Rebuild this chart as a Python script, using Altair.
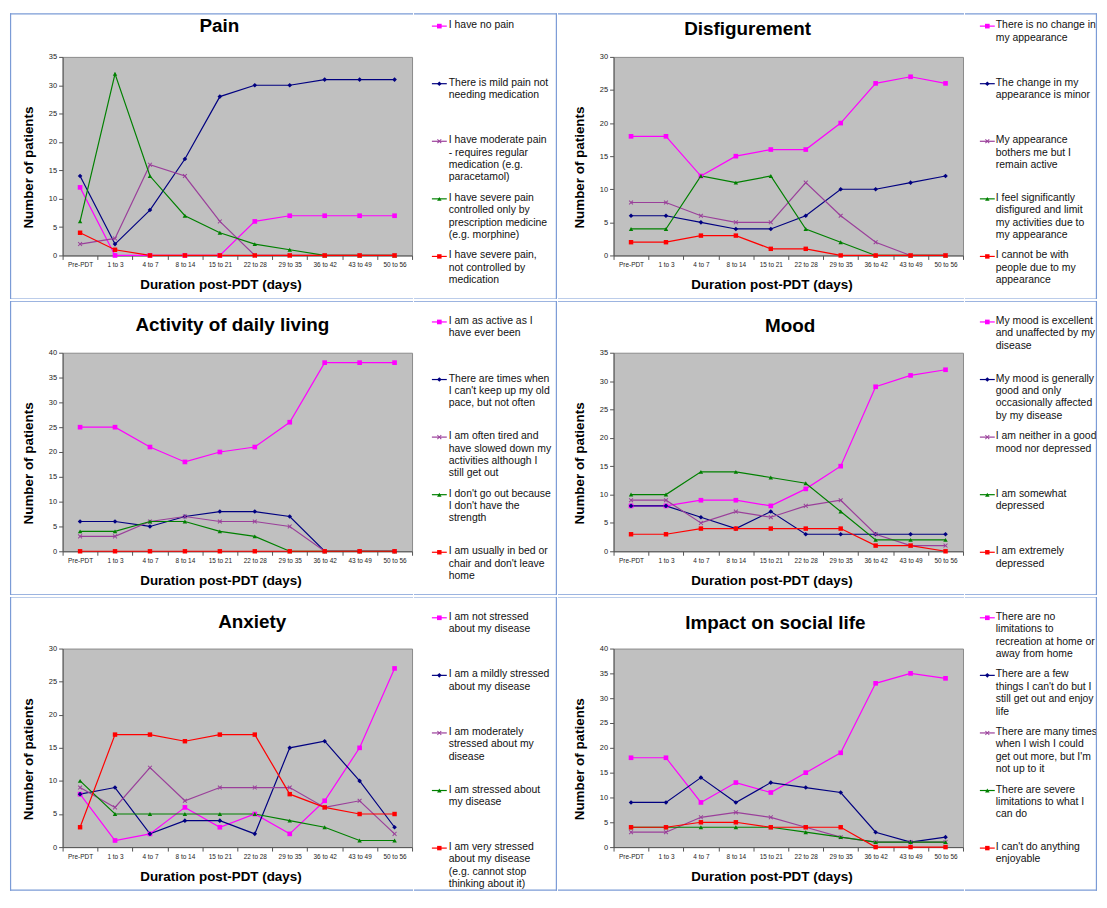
import altair as alt
import pandas as pd

FONT = "Liberation Sans"

categories = ["Pre-PDT", "1 to 3", "4 to 7", "8 to 14", "15 to 21", "22 to 28",
              "29 to 35", "36 to 42", "43 to 49", "50 to 56"]

series_keys = ["s1", "s2", "s3", "s4", "s5"]
series_colors = ["#ff00ff", "#000080", "#9a3f9a", "#008000", "#ff0000"]
X_SHAPE = "M-1,-0.7L-0.7,-1L0,-0.3L0.7,-1L1,-0.7L0.3,0L1,0.7L0.7,1L0,0.3L-0.7,1L-1,0.7L-0.3,0Z"
series_shapes = ["square", "diamond", X_SHAPE, "triangle-up", "square"]
series_sizes = [22, 20, 22, 18, 22]

# ---- Pain
pain_title = "Pain"
pain_ymax = 35
pain_labels = ["I have no pain",
               "There is mild pain not\nneeding medication",
               "I have moderate pain\n- requires regular\nmedication (e.g.\nparacetamol)",
               "I have severe pain\ncontrolled only by\nprescription medicine\n(e.g. morphine)",
               "I have severe pain,\nnot controlled by\nmedication"]
pain_values = [[12, 0, 0, 0, 0, 6, 7, 7, 7, 7],
               [14, 2, 8, 17, 28, 30, 30, 31, 31, 31],
               [2, 3, 16, 14, 6, 0, 0, 0, 0, 0],
               [6, 32, 14, 7, 4, 2, 1, 0, 0, 0],
               [4, 1, 0, 0, 0, 0, 0, 0, 0, 0]]

# ---- Disfigurement
disf_title = "Disfigurement"
disf_ymax = 30
disf_labels = ["There is no change in\nmy appearance",
               "The change in my\nappearance is minor",
               "My appearance\nbothers me but I\nremain active",
               "I feel significantly\ndisfigured and limit\nmy activities due to\nmy appearance",
               "I cannot be with\npeople due to my\nappearance"]
disf_values = [[18, 18, 12, 15, 16, 16, 20, 26, 27, 26],
               [6, 6, 5, 4, 4, 6, 10, 10, 11, 12],
               [8, 8, 6, 5, 5, 11, 6, 2, 0, 0],
               [4, 4, 12, 11, 12, 4, 2, 0, 0, 0],
               [2, 2, 3, 3, 1, 1, 0, 0, 0, 0]]

# ---- Activity of daily living
act_title = "Activity of daily living"
act_ymax = 40
act_labels = ["I am as active as I\nhave ever been",
              "There are times when\nI can't keep up my old\npace, but not often",
              "I am often tired and\nhave slowed down my\nactivities although I\nstill get out",
              "I don't go out because\nI don't have the\nstrength",
              "I am usually in bed or\nchair and don't leave\nhome"]
act_values = [[25, 25, 21, 18, 20, 21, 26, 38, 38, 38],
              [6, 6, 5, 7, 8, 8, 7, 0, 0, 0],
              [3, 3, 6, 7, 6, 6, 5, 0, 0, 0],
              [4, 4, 6, 6, 4, 3, 0, 0, 0, 0],
              [0, 0, 0, 0, 0, 0, 0, 0, 0, 0]]

# ---- Mood
mood_title = "Mood"
mood_ymax = 35
mood_labels = ["My mood is excellent\nand unaffected by my\ndisease",
               "My mood is generally\ngood and only\noccasionally affected\nby my disease",
               "I am neither in a good\nmood nor depressed",
               "I am somewhat\ndepressed",
               "I am extremely\ndepressed"]
mood_values = [[8, 8, 9, 9, 8, 11, 15, 29, 31, 32],
               [8, 8, 6, 4, 7, 3, 3, 3, 3, 3],
               [9, 9, 5, 7, 6, 8, 9, 3, 1, 1],
               [10, 10, 14, 14, 13, 12, 7, 2, 2, 2],
               [3, 3, 4, 4, 4, 4, 4, 1, 1, 0]]

# ---- Anxiety
anx_title = "Anxiety"
anx_ymax = 30
anx_labels = ["I am not stressed\nabout my disease",
              "I am a mildly stressed\nabout my disease",
              "I am moderately\nstressed about my\ndisease",
              "I am stressed about\nmy disease",
              "I am very stressed\nabout my disease\n(e.g. cannot stop\nthinking about it)"]
anx_values = [[8, 1, 2, 6, 3, 5, 2, 7, 15, 27],
              [8, 9, 2, 4, 4, 2, 15, 16, 10, 3],
              [9, 6, 12, 7, 9, 9, 9, 6, 7, 2],
              [10, 5, 5, 5, 5, 5, 4, 3, 1, 1],
              [3, 17, 17, 16, 17, 17, 8, 6, 5, 5]]

# ---- Impact on social life
soc_title = "Impact on social life"
soc_ymax = 40
soc_labels = ["There are no\nlimitations to\nrecreation at home or\naway from home",
              "There are a few\nthings I can't do but I\nstill get out and enjoy\nlife",
              "There are many times\nwhen I wish I could\nget out more, but I'm\nnot up to it",
              "There are severe\nlimitations to what I\ncan do",
              "I can't do anything\nenjoyable"]
soc_values = [[18, 18, 9, 13, 11, 15, 19, 33, 35, 34],
              [9, 9, 14, 9, 13, 12, 11, 3, 1, 2],
              [3, 3, 6, 7, 6, 4, 2, 1, 1, 1],
              [4, 4, 4, 4, 4, 3, 2, 1, 1, 1],
              [4, 4, 5, 5, 4, 4, 4, 0, 0, 0]]

# ---- layout (pixels)
PW = 352                 # plot width
PH = 200                 # plot height
B = 44                   # plot bottom -> cell bottom
COL = [dict(G=53, L=144, sx1=18, sx2=33, tx=35),   # left column
       dict(G=56, L=133, sx1=15, sx2=30, tx=31)]   # right column
ROW_T = [44, 52, 52]     # cell top -> plot top, per row
BORDER = "#7b9bd6"
BW = 1.2

color_scale = alt.Scale(domain=series_keys, range=series_colors)
shape_scale = alt.Scale(domain=series_keys, range=series_shapes)
size_scale = alt.Scale(domain=series_keys, range=series_sizes)
one = pd.DataFrame({"k": [0]})


def bar(x1, x2, y1, y2):
    # border strip drawn as a filled rectangle (exact bounds, no stroke)
    return alt.Chart(one).mark_rect(color=BORDER, strokeWidth=0).encode(
        x=alt.value(x1), x2=alt.value(x2), y=alt.value(y1), y2=alt.value(y2))


def panel(title, title_dx, title_dy, ymax, labels, values, r, c):
    G, L = COL[c]["G"], COL[c]["L"]
    T = ROW_T[r]
    top_w = BW if r == 0 else BW / 2
    bot_w = BW if r == 2 else BW / 2
    rows = []
    for si, vals in enumerate(values):
        for ci, (cat, v) in enumerate(zip(categories, vals)):
            rows.append({"cat": cat, "ci": ci, "s": series_keys[si], "v": v})
    df = pd.DataFrame(rows)

    x = alt.X("cat:N", sort=categories,
              scale=alt.Scale(type="band", paddingInner=0, paddingOuter=0),
              axis=alt.Axis(title="Duration post-PDT (days)", labelAngle=0, tickBand="extent",
                            labelFontSize=6.5, labelColor="#222", labelPadding=2,
                            tickSize=4, tickColor="#555", domainColor="#555",
                            titleFontSize=13.5, titleFontWeight="bold", titleColor="#000",
                            titlePadding=10, titleX=PW / 2 - 17))
    y = alt.Y("v:Q", scale=alt.Scale(domain=[0, ymax], nice=False, zero=True),
              axis=alt.Axis(title="Number of patients", values=list(range(0, ymax + 1, 5)),
                            grid=False, labelFontSize=7.5, labelColor="#222", labelPadding=2,
                            tickSize=4, tickColor="#555", domainColor="#555",
                            titleFontSize=13.5, titleFontWeight="bold", titleColor="#000",
                            titlePadding=13, titleY=PH / 2 + 11))
    color = alt.Color("s:N", scale=color_scale, legend=None)
    base = alt.Chart(df).encode(x=x, y=y, color=color)
    lines = base.mark_line(strokeWidth=1.2).encode(order=alt.Order("ci:Q"), detail="s:N")
    pts = base.mark_point(filled=True, opacity=1, strokeWidth=0).encode(
        shape=alt.Shape("s:N", scale=shape_scale, legend=None),
        size=alt.Size("s:N", scale=size_scale, legend=None))
    ttl = alt.Chart(one).mark_text(fontSize=19, fontWeight="bold", font=FONT, color="#000",
                                   baseline="middle", align="center").encode(
        x=alt.value(PW / 2 + title_dx), y=alt.value(title_dy), text=alt.value(title))
    layers = [lines, pts, ttl,
              bar(-G, PW + 1, -T, -T + top_w),
              bar(-G, PW + 1, PH + B - bot_w, PH + B)]
    if c == 0:
        layers.append(bar(-G, -G + BW, -T, PH + B))
    plot = alt.layer(*layers).properties(
        width=PW, height=PH,
        view=alt.ViewBackground(fill="#c0c0c0", stroke="#8a8a8a", strokeWidth=1))

    leg_df = pd.DataFrame({"idx": list(range(5)), "s": series_keys, "label": labels})
    ly = alt.Y("idx:Q", scale=alt.Scale(domain=[0, 4], range=[-31, 201]), axis=None)
    lc = alt.Color("s:N", scale=color_scale, legend=None)
    lbase = alt.Chart(leg_df).encode(y=ly, color=lc)
    sx1, sx2, tx = COL[c]["sx1"], COL[c]["sx2"], COL[c]["tx"]
    sym_line = lbase.mark_rule(strokeWidth=1.2).encode(x=alt.value(sx1), x2=alt.value(sx2))
    sym_pt = lbase.mark_point(filled=True, opacity=1, strokeWidth=0).encode(
        x=alt.value((sx1 + sx2) / 2),
        shape=alt.Shape("s:N", scale=shape_scale, legend=None),
        size=alt.Size("s:N", scale=alt.Scale(domain=series_keys, range=[14, 12, 14, 12, 14]),
                      legend=None))
    txt = alt.Chart(leg_df).mark_text(align="left", baseline="top", dy=-6, lineBreak="\n",
                                      fontSize=10.5, lineHeight=12.5, font=FONT,
                                      color="#111").encode(x=alt.value(tx), y=ly, text="label:N")
    leg = alt.layer(
        sym_line, sym_pt, txt,
        bar(0, L, -T, -T + top_w),
        bar(0, L, PH + B - bot_w, PH + B),
        bar(L - BW, L, -T, PH + B),
    ).properties(width=L, height=PH,
                 view=alt.ViewBackground(fill="transparent", stroke="transparent",
                                         strokeWidth=0))
    return alt.hconcat(plot, leg, spacing=0)


p_pain = panel(pain_title, -18, -31, pain_ymax, pain_labels, pain_values, 0, 0)
p_disf = panel(disf_title, -41, -28, disf_ymax, disf_labels, disf_values, 0, 1)
p_act = panel(act_title, -5, -28, act_ymax, act_labels, act_values, 1, 0)
p_mood = panel(mood_title, 2, -27, mood_ymax, mood_labels, mood_values, 1, 1)
p_anx = panel(anx_title, 15, -27, anx_ymax, anx_labels, anx_values, 2, 0)
p_soc = panel(soc_title, -13, -26, soc_ymax, soc_labels, soc_values, 2, 1)

chart = alt.vconcat(
    alt.hconcat(p_pain, p_disf, spacing=0),
    alt.hconcat(p_act, p_mood, spacing=0),
    alt.hconcat(p_anx, p_soc, spacing=0),
    spacing=0,
).properties(padding=1).configure(font=FONT).configure_view(strokeWidth=0)

chart.save("out.html", embed_options={"renderer": "svg", "actions": False})
